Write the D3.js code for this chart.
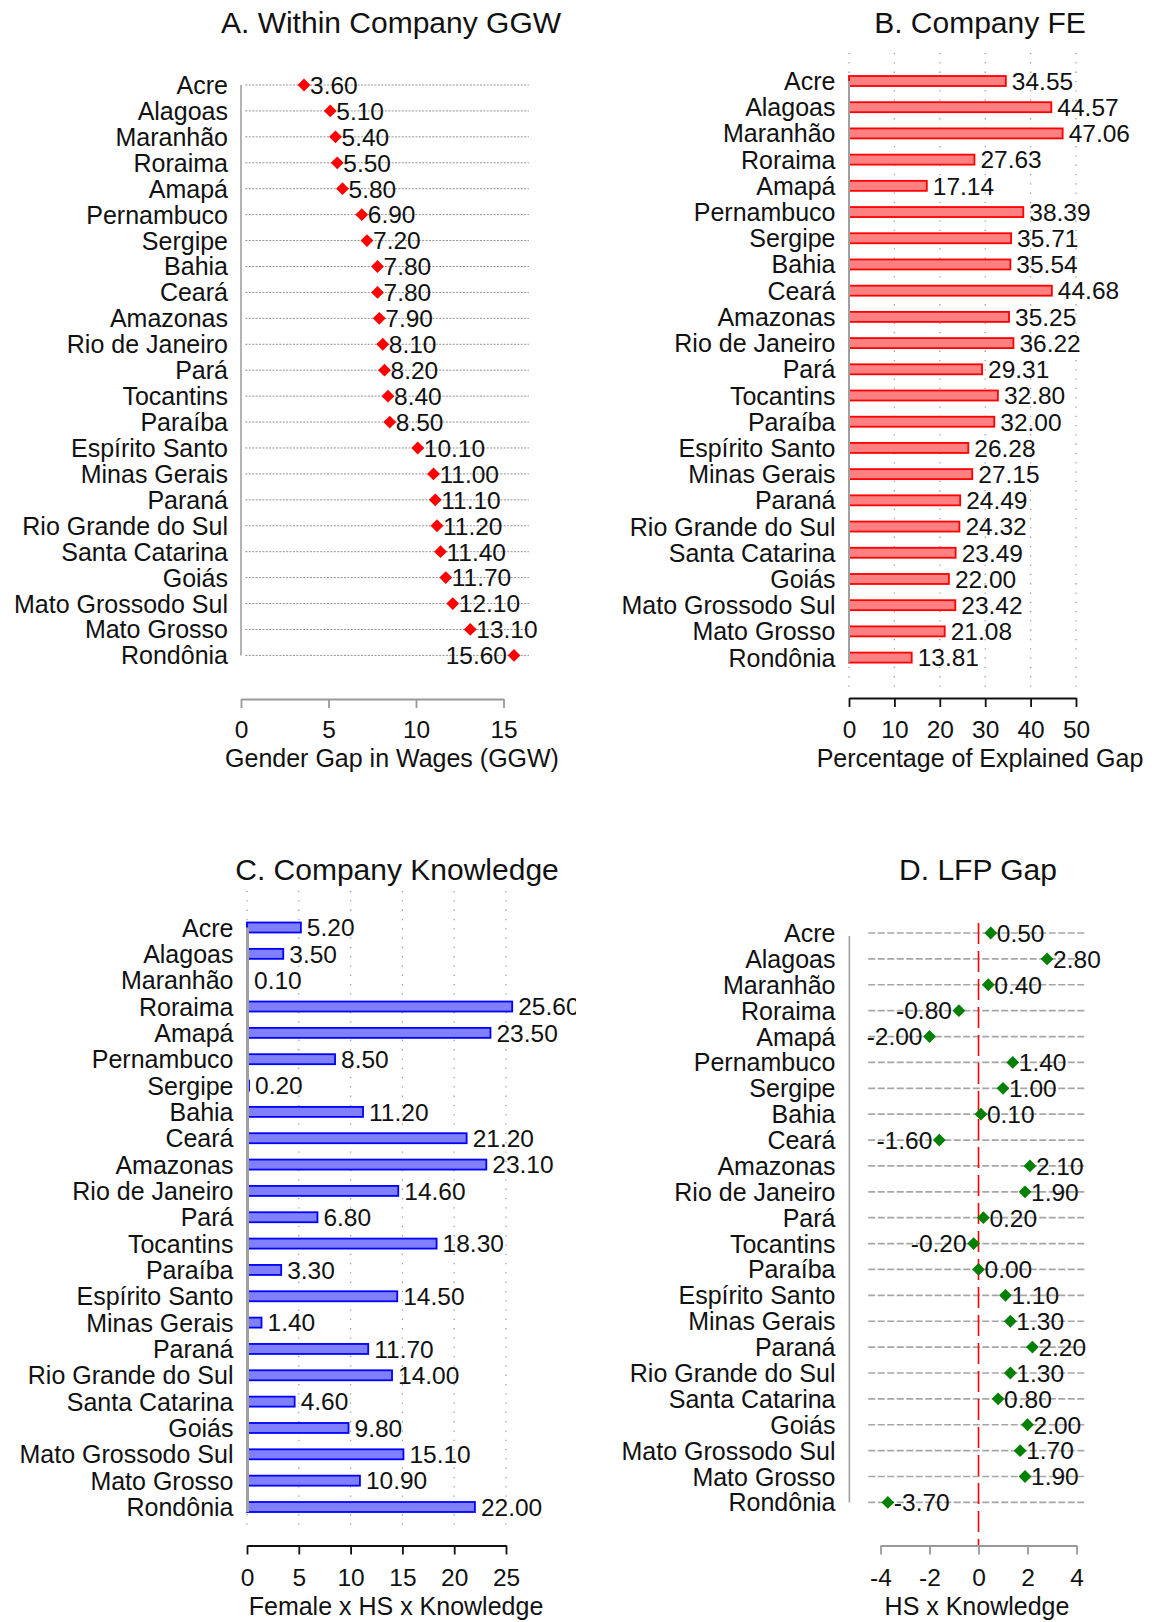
<!DOCTYPE html>
<html>
<head>
<meta charset="utf-8">
<script src="https://cdn.jsdelivr.net/npm/d3@7"></script>
<style>
  body { margin: 0; background: #fff; }
  svg text { font-family: "Liberation Sans", Arial, sans-serif; fill: #111; }
</style>
</head>
<body>
<div id="chart"></div>
<script>
// states, top to bottom
var states = ["Acre", "Alagoas", "Maranhão", "Roraima", "Amapá", "Pernambuco", "Sergipe",
  "Bahia", "Ceará", "Amazonas", "Rio de Janeiro", "Pará", "Tocantins", "Paraíba",
  "Espírito Santo", "Minas Gerais", "Paraná", "Rio Grande do Sul", "Santa Catarina",
  "Goiás", "Mato Grossodo Sul", "Mato Grosso", "Rondônia"];

var ggw = [3.6, 5.1, 5.4, 5.5, 5.8, 6.9, 7.2, 7.8, 7.8, 7.9, 8.1, 8.2, 8.4, 8.5,
  10.1, 11.0, 11.1, 11.2, 11.4, 11.7, 12.1, 13.1, 15.6];
var companyFE = [34.55, 44.57, 47.06, 27.63, 17.14, 38.39, 35.71, 35.54, 44.68, 35.25,
  36.22, 29.31, 32.80, 32.00, 26.28, 27.15, 24.49, 24.32, 23.49, 22.00, 23.42, 21.08, 13.81];
var knowledge = [5.2, 3.5, 0.1, 25.6, 23.5, 8.5, 0.2, 11.2, 21.2, 23.1, 14.6, 6.8, 18.3,
  3.3, 14.5, 1.4, 11.7, 14.0, 4.6, 9.8, 15.1, 10.9, 22.0];
var lfpGap = [0.5, 2.8, 0.4, -0.8, -2.0, 1.4, 1.0, 0.1, -1.6, 2.1, 1.9, 0.2, -0.2, 0.0,
  1.1, 1.3, 2.2, 1.3, 0.8, 2.0, 1.7, 1.9, -3.7];

// value labels written on the left of the marker
var ggwLabelLeft = ["Rondônia"];
var lfpLabelLeft = ["Roraima", "Amapá", "Ceará", "Tocantins"];

var ggwTicks = [0, 5, 10, 15];
var feTicks = [0, 10, 20, 30, 40, 50];
var knowTicks = [0, 5, 10, 15, 20, 25];
var lfpTicks = [-4, -2, 0, 2, 4];

var svg = d3.select("#chart").append("svg")
  .attr("width", 1152)
  .attr("height", 1622);

svg.append("defs").append("clipPath").attr("id", "clipC")
  .append("rect").attr("x", 0).attr("y", 800).attr("width", 576).attr("height", 822);

function rows(values) {
  return states.map((s, i) => ({state: s, value: values[i]}));
}

function drawTitle(g, text, x, y) {
  g.append("text").attr("x", x).attr("y", y)
    .attr("text-anchor", "middle").attr("font-size", 30).text(text);
}

function drawStateLabels(g, y, xRight) {
  g.selectAll(".lab").data(states).enter().append("text")
    .attr("x", xRight).attr("y", d => y(d)).attr("dy", "0.36em")
    .attr("text-anchor", "end").attr("font-size", 25).text(d => d);
}

function drawXAxis(g, x, ticks, yPos, color, title, titleX, labelGap) {
  var ax = g.append("g")
    .attr("transform", `translate(0,${yPos})`)
    .call(d3.axisBottom(x).tickValues(ticks).tickSize(9).tickSizeOuter(0).tickFormat(d => String(d)));
  ax.select(".domain").attr("stroke", color).attr("stroke-width", 1.8);
  ax.selectAll(".tick line").attr("stroke", color).attr("stroke-width", 1.8);
  ax.selectAll(".tick text").attr("y", labelGap).attr("dy", null).attr("font-size", 24.5);
  ax.attr("font-family", null);
  g.append("text")
    .attr("x", titleX).attr("y", yPos + labelGap + 29)
    .attr("text-anchor", "middle").attr("font-size", 25).text(title);
}

function diamond(g, data, x, y, color) {
  g.selectAll(".pt").data(data).enter().append("path")
    .attr("d", d3.symbol().type(d3.symbolSquare).size(82))
    .attr("transform", d => `translate(${x(d.value)},${y(d.state)}) rotate(45)`)
    .attr("fill", color);
}

function pointLabels(g, data, x, y, leftList) {
  g.selectAll(".val").data(data).enter().append("text")
    .attr("x", d => leftList.indexOf(d.state) >= 0 ? x(d.value) - 7 : x(d.value) + 6)
    .attr("y", d => y(d.state)).attr("dy", "0.36em")
    .attr("text-anchor", d => leftList.indexOf(d.state) >= 0 ? "end" : "start")
    .attr("font-size", 24.5).text(d => d.value.toFixed(2));
}

function bars(g, data, x, y, fill, stroke) {
  g.selectAll(".bar").data(data).enter().append("rect")
    .attr("x", x(0)).attr("y", d => y(d.state) - 5)
    .attr("width", d => x(d.value) - x(0)).attr("height", 10)
    .attr("fill", fill).attr("stroke", stroke).attr("stroke-width", 1.8);
  g.selectAll(".val").data(data).enter().append("text")
    .attr("x", d => x(d.value) + 6).attr("y", d => y(d.state)).attr("dy", "0.36em")
    .attr("font-size", 24.5).text(d => d.value.toFixed(2));
}

function verticalDots(g, x, ticks, y0, y1) {
  g.selectAll(".vgrid").data(ticks).enter().append("line")
    .attr("x1", d => x(d)).attr("x2", d => x(d))
    .attr("y1", y0).attr("y2", y1)
    .attr("stroke", "#a0a0a0").attr("stroke-width", 1.3).attr("stroke-dasharray", "1.3,8");
}

function yLine(g, xPos, y0, y1, w) {
  g.append("line").attr("x1", xPos).attr("x2", xPos).attr("y1", y0).attr("y2", y1)
    .attr("stroke", "#a0a0a0").attr("stroke-width", w || 1.6);
}

// ---------- A. Within Company GGW ----------
var gA = svg.append("g");
var xA = d3.scaleLinear().domain([0, 15]).range([241, 503.5]);
var yA = d3.scalePoint().domain(states).range([85, 655.4]);
drawTitle(gA, "A. Within Company GGW", 391, 33);
gA.selectAll(".grid").data(states).enter().append("line")
  .attr("x1", xA(0.25)).attr("x2", xA(16.45))
  .attr("y1", d => yA(d)).attr("y2", d => yA(d))
  .attr("stroke", "#909090").attr("stroke-width", 1).attr("stroke-dasharray", "2,1.4");
yLine(gA, xA(0), yA(states[0]), yA(states[states.length - 1]));
drawStateLabels(gA, yA, 228);
diamond(gA, rows(ggw), xA, yA, "#ff0000");
pointLabels(gA, rows(ggw), xA, yA, ggwLabelLeft);
drawXAxis(gA, xA, ggwTicks, 699, "#999", "Gender Gap in Wages (GGW)", 392, 39);

// ---------- B. Company FE ----------
var gB = svg.append("g");
var xB = d3.scaleLinear().domain([0, 50]).range([849, 1076]);
var yB = d3.scalePoint().domain(states).range([81, 657.6]);
drawTitle(gB, "B. Company FE", 980, 33);
verticalDots(gB, xB, feTicks, 53, 690);
drawStateLabels(gB, yB, 835.5);
bars(gB, rows(companyFE), xB, yB, "#ff8080", "#ff0000");
yLine(gB, xB(0), yB(states[0]), yB(states[states.length - 1]) + 5, 2);
drawXAxis(gB, xB, feTicks, 698, "#111", "Percentage of Explained Gap", 980, 40);

// ---------- C. Company Knowledge ----------
var gC = svg.append("g").attr("clip-path", "url(#clipC)");
var xC = d3.scaleLinear().domain([0, 25]).range([247, 506]);
var yC = d3.scalePoint().domain(states).range([927.5, 1507]);
drawTitle(gC, "C. Company Knowledge", 397, 880);
verticalDots(gC, xC, knowTicks, 891, 1528);
drawStateLabels(gC, yC, 233.5);
bars(gC, rows(knowledge), xC, yC, "#8080ff", "#0000ff");
// axis line drawn over the bars hides the two near-zero bars, as in the original
yLine(gC, xC(0) + 0.5, yC(states[0]), yC(states[states.length - 1]) + 5, 3);
drawXAxis(gC, xC, knowTicks, 1545.5, "#111", "Female x HS x Knowledge", 396, 40);

// ---------- D. LFP Gap ----------
var gD = svg.append("g");
var xD = d3.scaleLinear().domain([-4, 4]).range([880.5, 1076.5]);
var yD = d3.scalePoint().domain(states).range([933, 1502.4]);
drawTitle(gD, "D. LFP Gap", 978, 880);
gD.selectAll(".grid").data(states).enter().append("line")
  .attr("x1", xD(-4.5)).attr("x2", xD(4.4))
  .attr("y1", d => yD(d)).attr("y2", d => yD(d))
  .attr("stroke", "#a6a6a6").attr("stroke-width", 1.7).attr("stroke-dasharray", "7,2.5");
yLine(gD, xD(-5.27), yD(states[0]) + 3, yD(states[states.length - 1]));
gD.append("line")
  .attr("x1", xD(0)).attr("x2", xD(0)).attr("y1", 923).attr("y2", 1547)
  .attr("stroke", "#ff0000").attr("stroke-width", 1.6).attr("stroke-dasharray", "21,7");
drawStateLabels(gD, yD, 835.5);
diamond(gD, rows(lfpGap), xD, yD, "#008000");
pointLabels(gD, rows(lfpGap), xD, yD, lfpLabelLeft);
drawXAxis(gD, xD, lfpTicks, 1545.5, "#999", "HS x Knowledge", 977, 40);
</script>
</body>
</html>
